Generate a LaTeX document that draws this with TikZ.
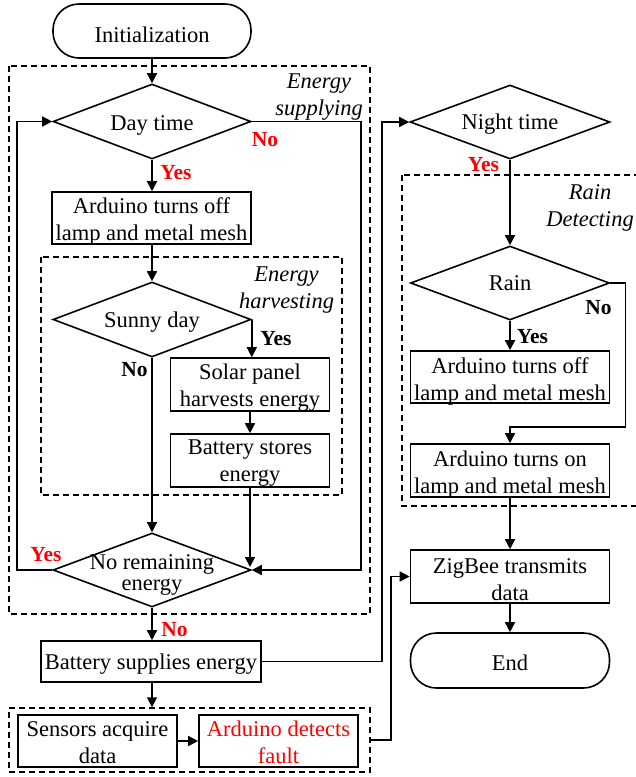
\documentclass[tikz,border=0pt]{standalone}
\usepackage{fontspec}
\setmainfont{Liberation Serif}
\usetikzlibrary{arrows.meta,shapes.geometric,calc}
\begin{document}
\begin{tikzpicture}[x=1pt,y=-1pt,
 every node/.style={font=\fontsize{22.5}{27}\selectfont},
 base/.style={draw, line width=1.6pt, inner sep=0pt, align=center},
 box/.style={base, rectangle, minimum width=199pt, minimum height=52pt},
 term/.style={base, rectangle, rounded corners=26pt, minimum width=198pt, minimum height=54pt},
 dia/.style={base, diamond, minimum width=198pt, minimum height=75pt},
 lab/.style={align=center, yshift=-3pt},
 grp/.style={draw, line width=1.4pt, dash pattern=on 6pt off 4pt},
 grplabel/.style={align=center, font=\fontsize{22.5}{27}\selectfont\itshape},
 arr/.style={line width=1.6pt, -{Triangle[length=10pt,width=10pt]}},
 yn/.style={font=\fontsize{21.5}{26}\selectfont\bfseries},
 ynred/.style={yn, text=red}
]
\useasboundingbox (0,0) rectangle (636,777);

% dashed groups
\draw[grp] (9,66) rectangle (370,614);
\draw[grp] (41,257) rectangle (342,495);
\draw[grp] (402,175) rectangle (660,506);
\node[grp, inner sep=0pt, minimum width=361pt, minimum height=64pt] (grpB) at (189.5,740) {};

\node[grplabel] (lsup) at (319,97.5) {Energy\\supplying};
\node[grplabel] (lharv) at (286.5,290) {Energy\\harvesting};
\node[grplabel] (lrain) at (590,207.5) {Rain\\Detecting};

% left column
\node[term, label={[lab, yshift=-1pt]center:Initialization}] (init) at (152,31) {};
\node[dia, label={[lab, yshift=-0.5pt]center:Day time}] (day) at (152,121.5) {};
\node[box, label={[lab]center:Arduino turns off\\lamp and metal mesh}] (off1) at (151.5,218) {};
\node[dia, label={[lab]center:Sunny day}] (sunny) at (152,319.5) {};
\node[box, minimum width=159pt, minimum height=53pt, label={[lab]center:Solar panel\\harvests energy}] (solar) at (250,384.5) {};
\node[box, minimum width=159pt, minimum height=53pt, label={[lab]center:Battery stores\\energy}] (bstore) at (250,460.5) {};
\node[dia, minimum height=74pt, label={[lab, yshift=-2pt, font=\fontsize{22.5}{21}\selectfont]center:No remaining\\energy}] (noremain) at (152,570) {};
\node[box, minimum width=220pt, minimum height=41pt, label={[lab]center:Battery supplies energy}] (bsupply) at (151,661.5) {};
\node[box, minimum width=159pt, minimum height=52pt, label={[lab, yshift=1.5pt]center:Sensors acquire\\data}] (sensors) at (97.5,741) {};
\node[box, minimum width=159pt, minimum height=52pt, label={[lab, yshift=1.5pt, text=red]center:Arduino detects\\fault}] (fault) at (278.5,741) {};

% right column
\node[dia, minimum width=200pt, minimum height=74pt, label={[lab, yshift=1pt]center:Night time}] (night) at (510,122) {};
\node[dia, minimum width=199pt, minimum height=74pt, label={[lab, yshift=2.5pt]center:Rain}] (rain) at (510,283) {};
\node[box, label={[lab, yshift=-1.5pt]center:Arduino turns off\\lamp and metal mesh}] (off2) at (510,377) {};
\node[box, minimum height=53pt, label={[lab, yshift=-1pt]center:Arduino turns on\\lamp and metal mesh}] (on2) at (510,470.5) {};
\node[box, minimum height=53pt, label={[lab]center:ZigBee transmits\\data}] (zigbee) at (510,576.5) {};
\node[term, minimum width=199pt, minimum height=55pt, label={[lab, yshift=0.5pt]center:End}] (end) at (510,660.5) {};

% connectors left
\draw[arr] (init.south) -- (day.north);
\draw[arr] (day.south) -- (day.south |- off1.north);
\draw[arr] (off1.south -| day.south) -- (sunny.north);
\draw[arr] (sunny.east) -- (sunny.east |- solar.north);
\draw[arr] (solar.south) -- (bstore.north);
\draw[arr] (sunny.south) -- (noremain.north);
\coordinate (bsend) at ($(bstore.south |- noremain.east)+(0,-3)$);
\draw[arr] (bstore.south) -- (bsend);
\draw[arr] (day.east) -- ++(109,0) |- (noremain.east);
\draw[arr] (noremain.west) -- ++(-35,0) |- (day.west);
\draw[arr] (noremain.south) -- (noremain.south |- bsupply.north);
\draw[arr] (bsupply.south -| noremain.south) -- (noremain.south |- grpB.north);
\draw[arr] (sensors.east) -- (fault.west);
\draw[arr] (bsupply.east) -- ++(120,0) |- (night.west);
\draw[arr] (grpB.east) -- ++(20,0) |- (zigbee.west);

% connectors right
\draw[arr] (night.south) -- (rain.north);
\draw[arr] (rain.south) -- (off2.north);
\draw[arr] (rain.east) -- ++(15,0) -- ++(0,144) -| (on2.north);
\draw[arr] (on2.south) -- (zigbee.north);
\draw[arr] (zigbee.south) -- (end.north);

% branch labels
\node[ynred] (y1) at (176,173) {Yes};
\node[ynred] (n1) at (265,140) {No};
\node[yn] (y2) at (276,339) {Yes};
\node[yn] (n2) at (134.5,370) {No};
\node[ynred] (y3) at (46,555) {Yes};
\node[ynred] (n3) at (174.5,630) {No};
\node[ynred] (y4) at (483.5,165) {Yes};
\node[yn] (n4) at (598.5,308) {No};
\node[yn] (y5) at (532.5,337) {Yes};
\end{tikzpicture}
\end{document}
